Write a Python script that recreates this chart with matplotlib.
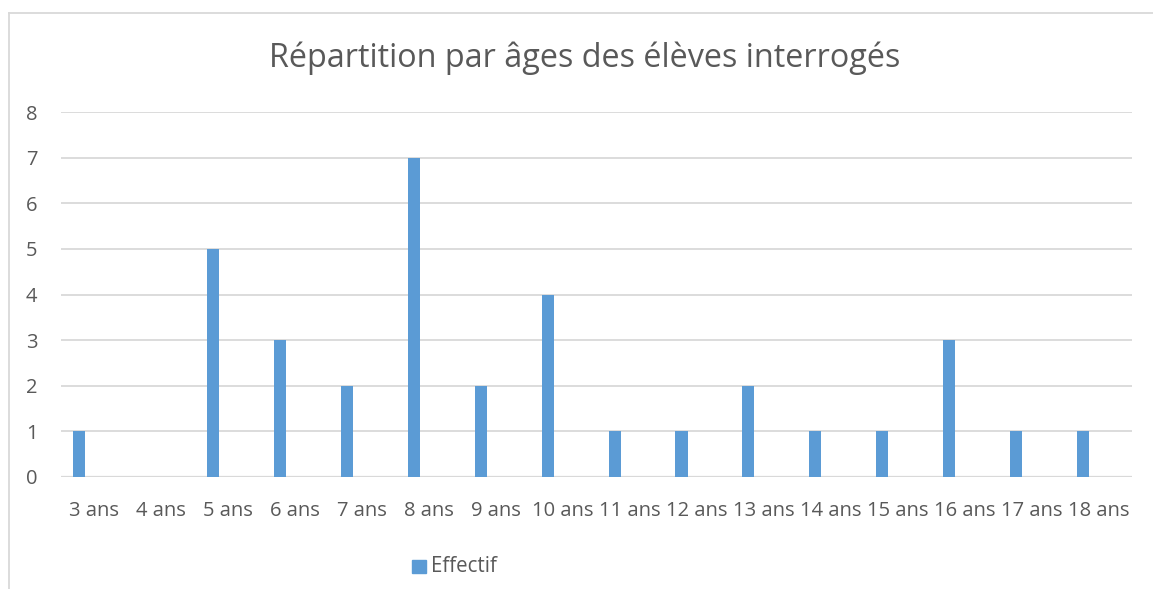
import matplotlib
matplotlib.use("Agg")
import matplotlib.pyplot as plt
from matplotlib.lines import Line2D
from matplotlib.patches import Rectangle
import numpy as np

categories = ["3 ans", "4 ans", "5 ans", "6 ans", "7 ans", "8 ans", "9 ans", "10 ans",
              "11 ans", "12 ans", "13 ans", "14 ans", "15 ans", "16 ans", "17 ans", "18 ans"]
effectif = [1, 0, 5, 3, 2, 7, 2, 4, 1, 1, 2, 1, 1, 3, 1, 1]
series_name = "Effectif"
title = "Répartition par âges des élèves interrogés"

W, H = 1153, 589
fig = plt.figure(figsize=(W / 100, H / 100), dpi=100)
plt.rcParams['font.family'] = ['Open Sans', 'DejaVu Sans']

txt = "#595959"
grid = "#d9d9d9"
bar_c = "#5B9BD5"

ax = fig.add_axes([61 / W, 1 - 477 / H, (1132 - 61) / W, (477 - 112) / H])
x = np.arange(len(categories))
ax.bar(x - 0.23, effectif, width=0.18, color=bar_c, zorder=3)
ax.set_xlim(-0.5, len(categories) - 0.5)
ax.set_ylim(0, 8)
ax.set_yticks(range(0, 9))
ax.yaxis.grid(True, color=grid, linewidth=1.3, zorder=0)
ax.set_xticks(x)
ax.set_xticklabels(categories)
for s in ax.spines.values():
    s.set_visible(False)
ax.axhline(0, color=grid, linewidth=1.6, zorder=2)
ax.tick_params(axis='both', length=0, colors=txt, labelsize=14.5)
ax.tick_params(axis='x', pad=17.5)
ax.tick_params(axis='y', pad=17)

fig.text(585 / W, 1 - 58 / H, title, ha='center', va='center', fontsize=23.3, color=txt)

# legend
fig.patches.append(Rectangle((412 / W, 1 - 573 / H), 14 / W, 13 / H, transform=fig.transFigure,
                             color=bar_c, figure=fig))
fig.text(431 / W, 1 - 566 / H, series_name, ha='left', va='center', fontsize=14.8, color=txt)

# chart border
fig.add_artist(Line2D([9 / W, 9 / W], [0, 1 - 13 / H], color=grid, linewidth=1.3, transform=fig.transFigure))
fig.add_artist(Line2D([9 / W, 1], [1 - 13 / H, 1 - 13 / H], color=grid, linewidth=1.3, transform=fig.transFigure))

fig.savefig("out.png", dpi=100, facecolor="white")
